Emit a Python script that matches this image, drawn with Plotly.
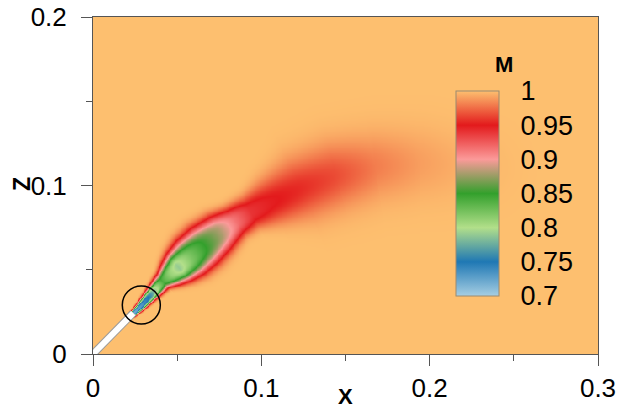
import numpy as np
import plotly.graph_objects as go

FONT = "Liberation Sans, Arial, Helvetica, sans-serif"

# ---- colour bar (Mach number) ----
m_levels = [0.7, 0.75, 0.8, 0.85, 0.9, 0.95, 1.0]
m_labels = ["0.7", "0.75", "0.8", "0.85", "0.9", "0.95", "1"]
level_colors = ["#a6cee3", "#1f78b4", "#b2df8a", "#33a02c", "#fb9a99", "#e31a1c", "#fdbf6f"]

# ---- plume centreline stations ----
plume_x = [0.0239, 0.0281, 0.0328, 0.0376, 0.0411, 0.0459, 0.0506, 0.0577, 0.0660,
           0.0755, 0.0845, 0.0934, 0.1052, 0.1230, 0.1438, 0.1675, 0.1942, 0.2298]
plume_z = [0.0243, 0.0285, 0.0338, 0.0392, 0.0433, 0.0475, 0.0516, 0.0576, 0.0647,
           0.0724, 0.0789, 0.0843, 0.0902, 0.0985, 0.1062, 0.1116, 0.1134, 0.1110]
plume_m = [0.72, 0.73, 0.75, 0.80, 0.84, 0.81, 0.79, 0.82, 0.85,
           0.88, 0.915, 0.94, 0.948, 0.955, 0.965, 0.98, 0.99, 0.998]
plume_w = [0.0018, 0.0024, 0.0033, 0.0042, 0.0050, 0.0076, 0.0096, 0.0118, 0.0125,
           0.0115, 0.0095, 0.0098, 0.0130, 0.0170, 0.0185, 0.0190, 0.0200, 0.0210]
plume_p = [3.0, 3.0, 3.0, 3.0, 3.0, 3.0, 3.0, 3.0, 3.0,
           3.0, 3.0, 2.8, 2.4, 2.0, 2.0, 2.0, 2.0, 2.0]

# ---- injector pipe and highlight circle ----
pipe_x = [0.0, 0.0239]
pipe_z = [0.0, 0.0243]
circle_x, circle_z, circle_r = 0.0287, 0.0291, 0.0113

x_ticks = [0, 0.1, 0.2, 0.3]
x_tick_labels = ["0", "0.1", "0.2", "0.3"]
x_minor = [0.05, 0.15, 0.25]
z_ticks = [0, 0.1, 0.2]
z_tick_labels = ["0", "0.1", "0.2"]
z_minor = [0.05, 0.15]

# ---- build the field from the stations ----
gx = np.linspace(0, 0.3, 601)
gz = np.linspace(0, 0.2, 401)
X, Z = np.meshgrid(gx, gz)
px = np.array(plume_x)
pz = np.array(plume_z)
seg_len = np.hypot(np.diff(px), np.diff(pz))
s_nodes = np.concatenate([[0], np.cumsum(seg_len)])
best_d = np.full(X.shape, np.inf)
best_s = np.zeros(X.shape)
for i in range(len(px) - 1):
    ax_, az_ = px[i], pz[i]
    dx, dz = px[i + 1] - ax_, pz[i + 1] - az_
    L2 = dx * dx + dz * dz
    t = np.clip(((X - ax_) * dx + (Z - az_) * dz) / L2, 0, 1)
    d = np.hypot(X - (ax_ + t * dx), Z - (az_ + t * dz))
    mask = d < best_d
    best_d = np.where(mask, d, best_d)
    best_s = np.where(mask, s_nodes[i] + t * np.sqrt(L2), best_s)
mins = np.interp(best_s, s_nodes, plume_m)
wid = np.interp(best_s, s_nodes, plume_w)
pw = np.interp(best_s, s_nodes, plume_p)
M = 1 - (1 - mins) * np.exp(-(best_d / wid) ** pw)

lo, hi = m_levels[0], m_levels[-1]
colorscale = [[min(1.0, max(0.0, round((m - lo) / (hi - lo), 6))), c]
              for m, c in zip(m_levels, level_colors)]

fig = go.Figure()
fig.add_trace(go.Heatmap(
    x=gx, y=gz, z=M, zmin=lo, zmax=hi, colorscale=colorscale, zsmooth="best",
    hoverinfo="skip",
    colorbar=dict(
        x=(456 - 93) / 505, xref="paper", xanchor="left",
        y=(354 - 193.5) / 337, yref="paper", yanchor="middle",
        thickness=43, thicknessmode="pixels",
        len=205, lenmode="pixels",
        tickvals=m_levels, ticktext=m_labels,
        ticks="outside", ticklen=16, tickcolor="rgba(0,0,0,0)",
        tickfont=dict(size=27, color="black", family=FONT),
        outlinewidth=1, outlinecolor="#9a8a70",
        xpad=0, ypad=0, bgcolor="rgba(0,0,0,0)",
    ),
))
# pipe
fig.add_trace(go.Scatter(x=pipe_x, y=pipe_z, mode="lines",
                         line=dict(color="#9a9a9a", width=8), hoverinfo="skip", showlegend=False))
fig.add_trace(go.Scatter(x=pipe_x, y=pipe_z, mode="lines",
                         line=dict(color="white", width=6), hoverinfo="skip", showlegend=False))

fig.add_shape(type="circle", xref="x", yref="y",
              x0=circle_x - circle_r, x1=circle_x + circle_r,
              y0=circle_z - circle_r, y1=circle_z + circle_r,
              line=dict(color="black", width=1.5))

axis_common = dict(
    ticks="outside", ticklen=11, tickcolor="#555", tickwidth=1,
    showline=True, linecolor="#555", linewidth=1, mirror=True,
    showgrid=False, zeroline=False,
    tickfont=dict(size=26, color="black", family=FONT),
)
fig.update_xaxes(range=[0, 0.3], tickvals=x_ticks, ticktext=x_tick_labels,
                 minor=dict(tickvals=x_minor, ticks="outside", ticklen=6, tickcolor="#555"),
                 **axis_common)
fig.update_yaxes(range=[0, 0.2], tickvals=z_ticks, ticktext=z_tick_labels,
                 minor=dict(tickvals=z_minor, ticks="outside", ticklen=6, tickcolor="#555"),
                 ticklabelstandoff=9,
                 **axis_common)

fig.add_annotation(text="<b>X</b>", xref="paper", yref="paper",
                   x=(345 - 93) / 505, y=(354 - 396) / 337, showarrow=False,
                   xanchor="center", yanchor="middle",
                   font=dict(size=22, color="black", family=FONT))
fig.add_annotation(text="<b>Z</b>", xref="paper", yref="paper",
                   x=(22 - 93) / 505, y=(354 - 184) / 337, showarrow=False, textangle=-90,
                   xanchor="center", yanchor="middle",
                   font=dict(size=23, color="black", family=FONT))
fig.add_annotation(text="<b>M</b>", xref="paper", yref="paper",
                   x=(504 - 93) / 505, y=(354 - 64) / 337, showarrow=False,
                   xanchor="center", yanchor="middle",
                   font=dict(size=22, color="black", family=FONT))

fig.update_layout(
    width=620, height=410,
    margin=dict(l=93, r=22, t=17, b=56, pad=0, autoexpand=False),
    paper_bgcolor="white", plot_bgcolor="white",
    showlegend=False,
    font=dict(family=FONT, color="black"),
)
fig.write_html("out.html")
